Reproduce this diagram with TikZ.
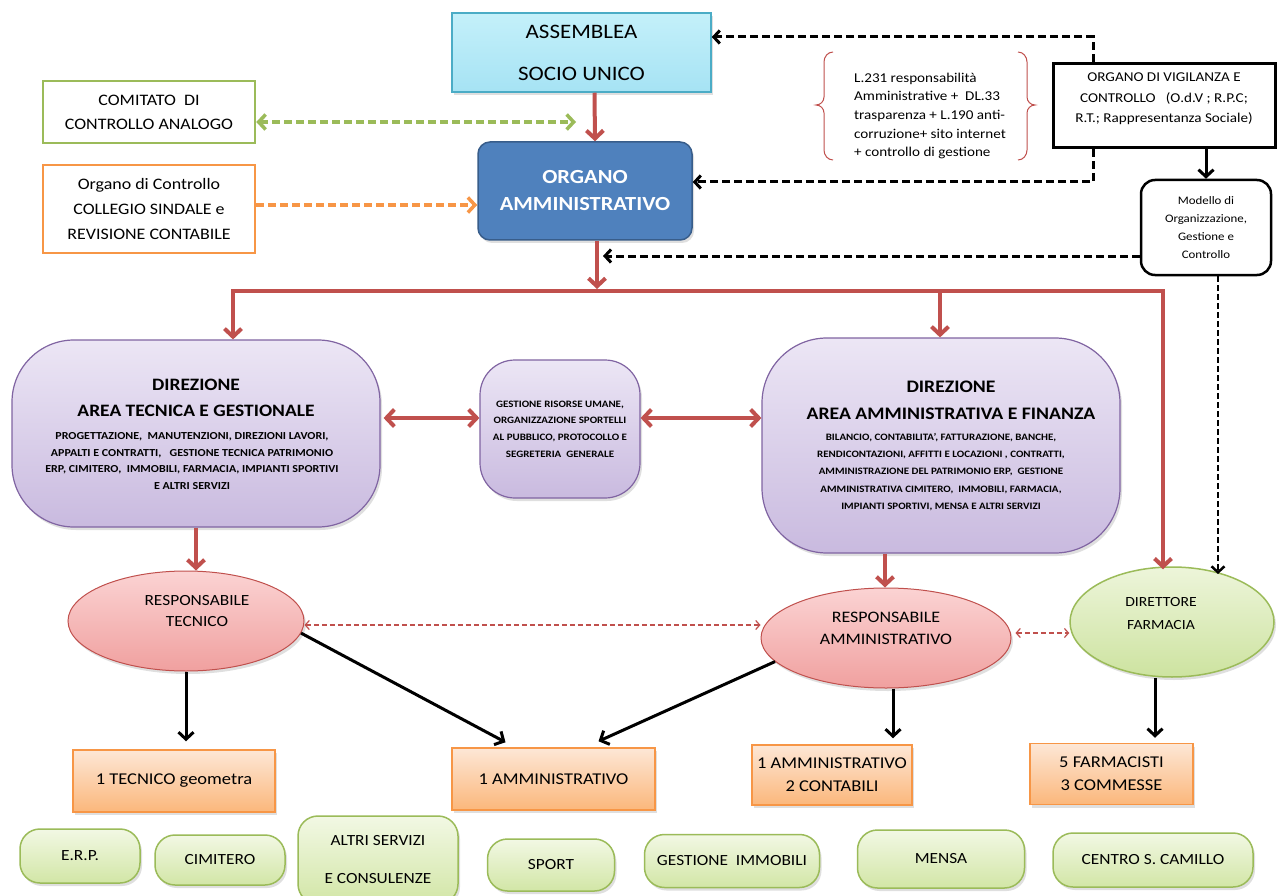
\documentclass[tikz,border=0pt]{standalone}
\usepackage{fontspec}
\setmainfont{Carlito}[FakeStretch=1.12]
\usetikzlibrary{arrows.meta,shapes.geometric,shadows,calc}
\definecolor{rd}{HTML}{C0504D}
\definecolor{gr}{HTML}{9BBB59}
\definecolor{og}{HTML}{F79646}
\definecolor{bl}{HTML}{4F81BD}
\definecolor{blb}{HTML}{385D8A}
\definecolor{pu}{HTML}{8064A2}
\definecolor{cy}{HTML}{4BACC6}
\definecolor{puT}{HTML}{ECE6F5}
\definecolor{puB}{HTML}{C9BADF}
\definecolor{pkT}{HTML}{FBD3D3}
\definecolor{pkB}{HTML}{F0A09F}
\definecolor{geT}{HTML}{EDF5DA}
\definecolor{geB}{HTML}{CDE3A0}
\definecolor{obT}{HTML}{FDE7D6}
\definecolor{obB}{HTML}{FBB77B}
\definecolor{gbT}{HTML}{F2F8E4}
\definecolor{gbB}{HTML}{D2E6A6}
\definecolor{cyT}{HTML}{C4F0FA}
\definecolor{cyB}{HTML}{A6E3F4}
\begin{document}
\begin{tikzpicture}[x=1pt,y=-1pt,
  shd/.style={drop shadow={opacity=0.25,shadow xshift=2pt,shadow yshift=-3pt}},
  plain/.style={draw, inner sep=0pt, line width=2.5pt, fill=white},
  purp/.style={draw=pu, line width=1.2pt, top color=puT, bottom color=puB, inner sep=0pt, shd},
  pink/.style={ellipse, draw=rd, line width=1pt, top color=pkT, bottom color=pkB, inner sep=0pt, shd},
  gell/.style={ellipse, draw=gr, line width=1.5pt, top color=geT, bottom color=geB, inner sep=0pt, shd},
  obox/.style={draw=og, line width=1.5pt, top color=obT, bottom color=obB, inner sep=0pt, shd, font=\fontsize{16.5}{23}\selectfont, align=center},
  gbox/.style={draw=gr, line width=1.5pt, rounded corners=20pt, top color=gbT, bottom color=gbB, inner sep=0pt, shd, font=\fontsize{15.5}{19}\selectfont, align=center},
  txt/.style={inner sep=0pt, align=center},
  redarr/.style={draw=rd, line width=4pt, -{Straight Barb[length=8pt,width=17pt]}},
  reddbl/.style={draw=rd, line width=4pt, {Straight Barb[length=8pt,width=17pt]}-{Straight Barb[length=8pt,width=17pt]}},
  redline/.style={draw=rd, line width=4pt},
  blkarr/.style={draw=black, line width=3pt, -{Straight Barb[length=7pt,width=15pt]}},
  blkdash/.style={draw=black, line width=3pt, dash pattern=on 8pt off 4pt, -{Straight Barb[length=6pt,width=13pt]}},
  grdash/.style={draw=gr, line width=3.5pt, dash pattern=on 8pt off 4pt, {Straight Barb[length=7pt,width=15pt]}-{Straight Barb[length=7pt,width=15pt]}},
  ogdash/.style={draw=og, line width=3.5pt, dash pattern=on 8pt off 4pt, -{Straight Barb[length=7pt,width=15pt]}},
  rdthin/.style={draw=rd, line width=1.2pt, dash pattern=on 5pt off 3pt, {Straight Barb[length=4pt,width=9pt]}-{Straight Barb[length=4pt,width=9pt]}},
]
\useasboundingbox (0,0) rectangle (1277,896);
\fill[white] (0,0) rectangle (1277,896);

% top level
\node[draw=cy, line width=1.5pt, top color=cyT, bottom color=cyB, minimum width=259pt, minimum height=79pt, inner sep=0pt, shd,
  font=\fontsize{20.5}{42}\selectfont, align=center] (asm) at (581.5,52.5) {ASSEMBLEA\\SOCIO UNICO};
\node[draw=blb, line width=1.5pt, fill=bl, rounded corners=12pt, minimum width=214pt, minimum height=98pt, inner sep=0pt, shd,
  text=white, font=\fontsize{20}{27}\selectfont\bfseries, align=center] (oa) at (585,191) {ORGANO\\AMMINISTRATIVO};
\node[plain, draw=gr, minimum width=212pt, minimum height=62pt, font=\fontsize{16}{24}\selectfont, align=center] (cca) at (149,112) {COMITATO\ \ DI\\CONTROLLO ANALOGO};
\node[plain, draw=og, minimum width=212pt, minimum height=88pt, font=\fontsize{16}{25}\selectfont, align=center] (occ) at (149,209) {Organo di Controllo\\COLLEGIO SINDALE e\\REVISIONE CONTABILE};
\node[txt, align=left, font=\fontsize{13.5}{18.7}\selectfont] (law) at (930,116) {L.231 responsabilità\\Amministrative +\ \ DL.33\\trasparenza + L.190 anti-\\corruzione+ sito internet\\+ controllo di gestione};
\draw[rd, line width=1pt] (833,52) to[out=180,in=90] (824,62) -- (824,97) to[out=-90,in=0] (816,105) to[out=0,in=90] (824,113) -- (824,150) to[out=-90,in=180] (833,160);
\draw[rd, line width=1pt] (1018,52) to[out=0,in=90] (1027,62) -- (1027,97) to[out=-90,in=180] (1035,105) to[out=180,in=90] (1027,113) -- (1027,150) to[out=-90,in=0] (1018,160);
\node[plain, draw=black, line width=3pt, minimum width=222pt, minimum height=84pt] (odv) at (1164,105.5) {};
\node[txt, font=\fontsize{13.5}{20.5}\selectfont] (odvt) at (1164,99) {ORGANO DI VIGILANZA E\\CONTROLLO\ \ \ (O.d.V ; R.P.C;\\R.T.;\ Rappresentanza Sociale)};
\node[plain, draw=black, line width=2.5pt, rounded corners=14pt, minimum width=130pt, minimum height=95pt, font=\fontsize{11.5}{18}\selectfont, align=center] (mog) at (1206,227.5) {Modello di\\Organizzazione,\\Gestione e\\Controllo};

% direction boxes
\node[purp, rounded corners=62pt, minimum width=368pt, minimum height=187pt] (dat) at (196,433.5) {};
\node[txt, font=\fontsize{17.4}{26}\selectfont\bfseries] (dath) at (196,398) {DIREZIONE\\AREA TECNICA E GESTIONALE};
\node[txt, font=\fontsize{10.7}{16.7}\selectfont\bfseries] (datb) at (192,461) {PROGETTAZIONE,\ \ MANUTENZIONI, DIREZIONI LAVORI,\\APPALTI E CONTRATTI,\ \ \ GESTIONE TECNICA PATRIMONIO\\ERP, CIMITERO,\ \ IMMOBILI, FARMACIA, IMPIANTI SPORTIVI\\E ALTRI SERVIZI};
\node[purp, rounded corners=35pt, minimum width=160pt, minimum height=138pt, font=\fontsize{9.8}{16.7}\selectfont\bfseries, align=center] (mid) at (560,429) {GESTIONE RISORSE UMANE,\\ORGANIZZAZIONE SPORTELLI\\AL PUBBLICO, PROTOCOLLO E\\SEGRETERIA\ \ GENERALE};
\node[purp, rounded corners=65pt, minimum width=358pt, minimum height=215pt] (daf) at (941,445.5) {};
\node[txt, font=\fontsize{17.6}{27}\selectfont\bfseries] (dafh) at (951,400.5) {DIREZIONE\\AREA AMMINISTRATIVA E FINANZA};
\node[txt, font=\fontsize{9.8}{17.3}\selectfont\bfseries] (dafb) at (941,472) {BILANCIO, CONTABILITA', FATTURAZIONE, BANCHE,\\RENDICONTAZIONI, AFFITTI E LOCAZIONI , CONTRATTI,\\AMMINISTRAZIONE DEL PATRIMONIO ERP,\ \ GESTIONE\\AMMINISTRATIVA CIMITERO,\ \ IMMOBILI, FARMACIA,\\IMPIANTI SPORTIVI, MENSA E ALTRI SERVIZI};

% ellipses
\node[pink, minimum width=236pt, minimum height=100pt] (rt) at (186,621) {};
\node[txt, font=\fontsize{15.5}{20.5}\selectfont] (rtt) at (197,611) {RESPONSABILE\\TECNICO};
\node[pink, minimum width=250pt, minimum height=100pt] (ra) at (886,638) {};
\node[txt, font=\fontsize{16}{22}\selectfont] (rat) at (886,628) {RESPONSABILE\\AMMINISTRATIVO};
\node[gell, minimum width=204pt, minimum height=110pt] (df) at (1172,622) {};
\node[txt, font=\fontsize{14}{23}\selectfont] (dft) at (1161,614) {DIRETTORE\\FARMACIA};

% staff boxes
\node[obox, minimum width=202pt, minimum height=62pt] (o1) at (174,781) {1 TECNICO geometra};
\node[obox, minimum width=203pt, minimum height=62pt] (o2) at (553.5,779) {1 AMMINISTRATIVO};
\node[obox, minimum width=160pt, minimum height=60pt] (o3) at (832,775) {1 AMMINISTRATIVO\\2 CONTABILI};
\node[obox, minimum width=163pt, minimum height=61pt] (o4) at (1111.5,774) {5 FARMACISTI\\3 COMMESSE};

% services
\node[gbox, minimum width=120pt, minimum height=54pt] (g1) at (80,856) {E.R.P.};
\node[gbox, minimum width=130pt, minimum height=50pt] (g2) at (220,860) {CIMITERO};
\node[gbox, minimum width=160pt, minimum height=88pt, font=\fontsize{15.5}{38}\selectfont] (g3) at (378,860) {ALTRI SERVIZI\\E CONSULENZE};
\node[gbox, minimum width=127pt, minimum height=52pt] (g4) at (551,865) {SPORT};
\node[gbox, minimum width=175pt, minimum height=53pt] (g5) at (732,861) {GESTIONE\ \ IMMOBILI};
\node[gbox, minimum width=167pt, minimum height=58pt] (g6) at (941,859) {MENSA};
\node[gbox, minimum width=200pt, minimum height=54pt] (g7) at (1153,860) {CENTRO S. CAMILLO};

% coordinates
\coordinate (ccaend) at (576,122);
\coordinate (busL) at (233,291);
\coordinate (busM) at (940,291);
\coordinate (busR) at (1163,291);
\coordinate (busC) at (597,291);
\coordinate (mogend) at (603,256);
\coordinate (dftop) at (1218,574);

% connectors
\draw[redarr] ([xshift=13]asm.south) -- ([xshift=10]oa.north);
\draw[grdash] (cca.east |- ccaend) -- (ccaend);
\draw[ogdash] ([yshift=4]occ.east) -- ([yshift=4]occ.east -| oa.west);
\draw[blkdash] ([xshift=-71]odv.north) |- ([yshift=15.5]asm.east);
\draw[blkdash] ([xshift=-71]odv.south) |- ([yshift=9]oa.east);
\draw[blkarr] (mog.north |- odv.south) -- (mog.north);
\draw[blkdash] (mog.west |- mogend) -- (mogend);
\draw[draw=black, line width=2.5pt, dash pattern=on 6pt off 3pt, -{Straight Barb[length=6pt,width=13pt]}] ([xshift=12]mog.south) -- (dftop);

\draw[redarr] ([xshift=12]oa.south) -- ([yshift=2]busC);
\draw[redline] ([xshift=-2]busL) -- ([xshift=2]busR);
\draw[redarr] (busL) -- (busL |- dat.north);
\draw[redarr] (busM) -- (busM |- daf.north);
\draw[redarr] (busR) -- ([yshift=-3]busR |- df.north);

\draw[reddbl] ([xshift=3,yshift=15.5]dat.east) -- ([yshift=15.5]dat.east -| mid.west);
\draw[reddbl] ([yshift=11]mid.east) -- ([yshift=11]mid.east -| daf.west);
\draw[redarr] (dat.south) -- (dat.south |- rt.north);
\draw[redarr] ([xshift=-56]daf.south) -- ([xshift=-56]daf.south |- ra.north);

\draw[rdthin] ([yshift=-4]rt.east) -- ([yshift=-4]rt.east -| ra.west);
\draw[rdthin] ([xshift=4,yshift=5]ra.east) -- ([yshift=5]ra.east -| df.west);

\draw[blkarr] (rt.south) -- ([yshift=8]o1.north -| rt.south);
\draw[blkarr] (rt.-6) -- ([xshift=-48,yshift=5]o2.north);
\draw[blkarr] (ra.192) -- ([xshift=45,yshift=6]o2.north);
\draw[blkarr] ([xshift=7]ra.south) -- ([xshift=61,yshift=6]o3.north);
\draw[blkarr] ([xshift=-17]df.south) -- ([xshift=43.5,yshift=5]o4.north);
\end{tikzpicture}
\end{document}
